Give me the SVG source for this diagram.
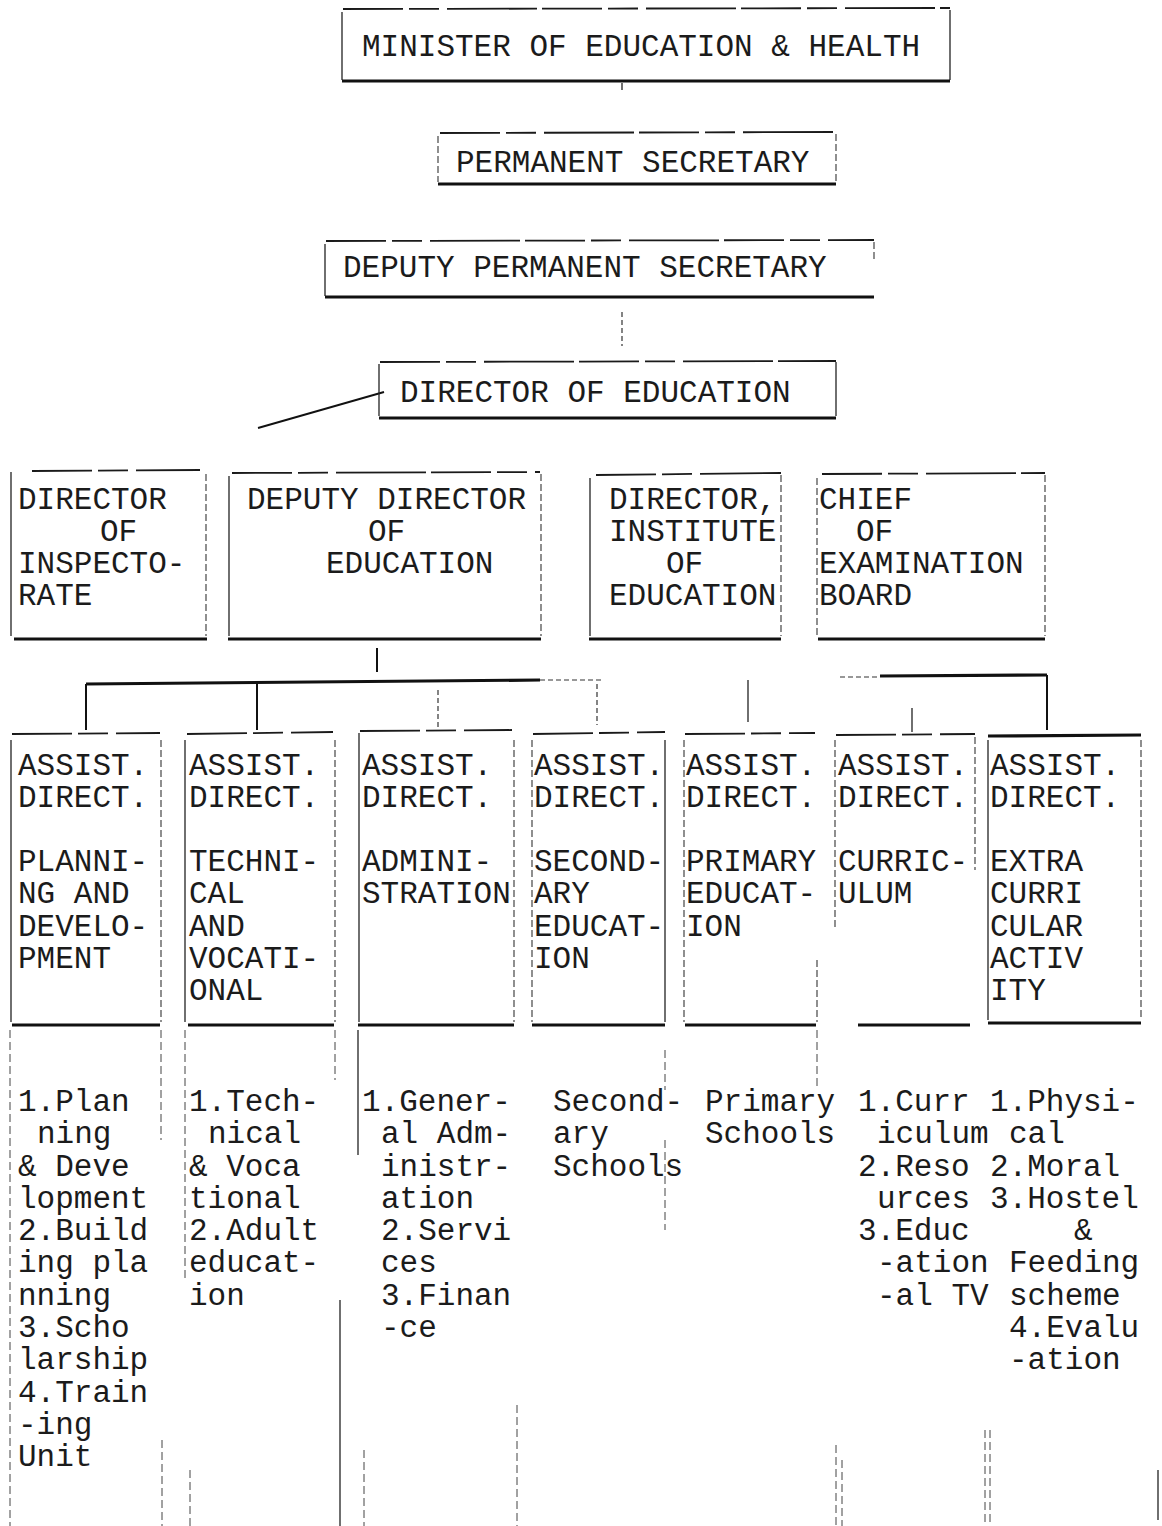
<svg xmlns="http://www.w3.org/2000/svg" width="1162" height="1526" viewBox="0 0 1162 1526">
<style>
text { font-family: "Liberation Mono", "DejaVu Sans Mono", monospace; font-size: 31px; fill: #1b1b1b; }
.t { stroke:#1a1a1a; stroke-width:1.8; stroke-dasharray: 60 6 30 8 90 5; fill:none }
.b { stroke:#111; stroke-width:3.2; fill:none }
.s { stroke:#222; stroke-width:1.3; fill:none }
.ds { stroke:#333; stroke-width:1.1; stroke-dasharray: 7 3; fill:none }
.c { stroke:#111; stroke-width:2; fill:none }
.cd { stroke:#333; stroke-width:1.2; stroke-dasharray: 5 3; fill:none }
.a { stroke:#444; stroke-width:1; stroke-dasharray: 8 4; fill:none }
</style>
<rect width="1162" height="1526" fill="#fff"/>

<g id="connectors">
  <line class="s" x1="622" y1="83" x2="622" y2="90"/>
  <line class="cd" x1="622" y1="312" x2="622" y2="346"/>
  <line class="c" x1="258" y1="428" x2="384" y2="392"/>
  <line class="c" x1="377" y1="648" x2="377" y2="672"/>
  <line class="b" x1="86" y1="684" x2="540" y2="680"/>
  <line class="cd" x1="540" y1="680" x2="602" y2="680"/>
  <line class="c" x1="86" y1="684" x2="86" y2="730"/>
  <line class="c" x1="257" y1="683" x2="257" y2="730"/>
  <line class="cd" x1="438" y1="690" x2="438" y2="728"/>
  <line class="cd" x1="597" y1="684" x2="597" y2="725"/>
  <line class="s" x1="748" y1="680" x2="748" y2="722"/>
  <line class="cd" x1="840" y1="677" x2="880" y2="677"/>
  <line class="b" x1="880" y1="676" x2="1047" y2="675"/>
  <line class="c" x1="1047" y1="675" x2="1047" y2="730"/>
  <line class="s" x1="912" y1="708" x2="912" y2="732"/>
  <line class="a" x1="10" y1="1030" x2="10" y2="1526"/>
  <line class="a" x1="161" y1="1030" x2="161" y2="1140"/>
  <line class="a" x1="162" y1="1440" x2="162" y2="1526"/>
  <line class="a" x1="185" y1="1030" x2="185" y2="1280"/>
  <line class="a" x1="190" y1="1470" x2="190" y2="1526"/>
  <line class="a" x1="335" y1="1030" x2="335" y2="1080"/>
  <line class="s" x1="340" y1="1300" x2="340" y2="1526"/>
  <line class="s" x1="358" y1="1030" x2="358" y2="1155"/>
  <line class="a" x1="364" y1="1450" x2="364" y2="1526"/>
  <line class="a" x1="517" y1="1405" x2="517" y2="1526"/>
  <line class="a" x1="665" y1="1050" x2="665" y2="1090"/>
  <line class="a" x1="665" y1="1140" x2="665" y2="1230"/>
  <line class="a" x1="817" y1="1030" x2="817" y2="1090"/>
  <line class="a" x1="836" y1="1445" x2="836" y2="1526"/>
  <line class="a" x1="842" y1="1460" x2="842" y2="1526"/>
  <line class="a" x1="985" y1="1430" x2="985" y2="1526"/>
  <line class="a" x1="990" y1="1430" x2="990" y2="1526"/>
  <line class="s" x1="1158" y1="1470" x2="1158" y2="1520"/>
</g>

<g id="minister">
  <line class="t" x1="343" y1="9" x2="950" y2="8"/>
  <line class="s" x1="342" y1="12" x2="342" y2="80"/>
  <line class="s" x1="950" y1="10" x2="950" y2="80"/>
  <line class="b" x1="342" y1="81" x2="950" y2="81"/>
  <text x="362" y="56">MINISTER OF EDUCATION &amp; HEALTH</text>
</g>

<g id="permanent-secretary">
  <line class="t" x1="440" y1="133" x2="836" y2="132"/>
  <line class="ds" x1="438" y1="136" x2="438" y2="182"/>
  <line class="ds" x1="836" y1="134" x2="836" y2="182"/>
  <line class="b" x1="438" y1="184" x2="836" y2="184"/>
  <text x="456" y="172">PERMANENT SECRETARY</text>
</g>

<g id="deputy-permanent-secretary">
  <line class="t" x1="326" y1="241" x2="874" y2="240"/>
  <line class="s" x1="325" y1="244" x2="325" y2="296"/>
  <line class="ds" x1="874" y1="242" x2="874" y2="262"/>
  <line class="b" x1="325" y1="297" x2="874" y2="297"/>
  <text x="343" y="277">DEPUTY PERMANENT SECRETARY</text>
</g>

<g id="director-of-education">
  <line class="t" x1="380" y1="362" x2="836" y2="361"/>
  <line class="s" x1="379" y1="364" x2="379" y2="416"/>
  <line class="s" x1="836" y1="362" x2="836" y2="416"/>
  <line class="b" x1="379" y1="418" x2="836" y2="418"/>
  <text x="400" y="402">DIRECTOR OF EDUCATION</text>
</g>

<g id="director-inspectorate">
  <line class="t" x1="32" y1="471" x2="200" y2="470"/>
  <line class="s" x1="11" y1="472" x2="11" y2="636"/>
  <line class="ds" x1="206" y1="474" x2="206" y2="636"/>
  <line class="b" x1="14" y1="639" x2="207" y2="639"/>
  <text x="18" y="509">DIRECTOR</text>
  <text x="100" y="541">OF</text>
  <text x="18" y="573">INSPECTO-</text>
  <text x="18" y="605">RATE</text>
</g>

<g id="deputy-director">
  <line class="t" x1="232" y1="473" x2="540" y2="472"/>
  <line class="s" x1="229" y1="476" x2="229" y2="636"/>
  <line class="ds" x1="541" y1="474" x2="541" y2="636"/>
  <line class="b" x1="228" y1="639" x2="541" y2="639"/>
  <text x="247" y="509">DEPUTY DIRECTOR</text>
  <text x="368" y="541">OF</text>
  <text x="326" y="573">EDUCATION</text>
</g>

<g id="director-institute">
  <line class="t" x1="596" y1="475" x2="781" y2="473"/>
  <line class="s" x1="590" y1="478" x2="590" y2="636"/>
  <line class="ds" x1="781" y1="475" x2="781" y2="636"/>
  <line class="b" x1="589" y1="639" x2="781" y2="639"/>
  <text x="609" y="509">DIRECTOR,</text>
  <text x="609" y="541">INSTITUTE</text>
  <text x="666" y="573">OF</text>
  <text x="609" y="605">EDUCATION</text>
</g>

<g id="chief-examination">
  <line class="t" x1="822" y1="474" x2="1045" y2="473"/>
  <line class="ds" x1="817" y1="478" x2="817" y2="636"/>
  <line class="ds" x1="1045" y1="475" x2="1045" y2="636"/>
  <line class="b" x1="818" y1="639" x2="1045" y2="639"/>
  <text x="819" y="509">CHIEF</text>
  <text x="856" y="541">OF</text>
  <text x="819" y="573">EXAMINATION</text>
  <text x="819" y="605">BOARD</text>
</g>

<g id="ad-planning">
  <line class="t" x1="12" y1="734" x2="160" y2="733"/>
  <line class="s" x1="11" y1="740" x2="11" y2="1022"/>
  <line class="ds" x1="161" y1="740" x2="161" y2="1022"/>
  <line class="b" x1="12" y1="1025" x2="160" y2="1025"/>
  <text x="18" y="775">ASSIST.</text>
  <text x="18" y="807">DIRECT.</text>
  <text x="18" y="871">PLANNI-</text>
  <text x="18" y="903">NG AND</text>
  <text x="18" y="936">DEVELO-</text>
  <text x="18" y="968">PMENT</text>
  <text x="18" y="1111">1.Plan</text>
  <text x="37" y="1143">ning</text>
  <text x="18" y="1176">&amp; Deve</text>
  <text x="18" y="1208">lopment</text>
  <text x="18" y="1240">2.Build</text>
  <text x="18" y="1272">ing pla</text>
  <text x="18" y="1305">nning</text>
  <text x="18" y="1337">3.Scho</text>
  <text x="18" y="1369">larship</text>
  <text x="18" y="1402">4.Train</text>
  <text x="18" y="1434">-ing</text>
  <text x="18" y="1466">Unit</text>
</g>

<g id="ad-technical">
  <line class="t" x1="187" y1="734" x2="333" y2="732"/>
  <line class="s" x1="185" y1="740" x2="185" y2="1022"/>
  <line class="ds" x1="335" y1="740" x2="335" y2="1022"/>
  <line class="b" x1="188" y1="1025" x2="334" y2="1025"/>
  <text x="189" y="775">ASSIST.</text>
  <text x="189" y="807">DIRECT.</text>
  <text x="189" y="871">TECHNI-</text>
  <text x="189" y="903">CAL</text>
  <text x="189" y="936">AND</text>
  <text x="189" y="968">VOCATI-</text>
  <text x="189" y="1000">ONAL</text>
  <text x="189" y="1111">1.Tech-</text>
  <text x="208" y="1143">nical</text>
  <text x="189" y="1176">&amp; Voca</text>
  <text x="189" y="1208">tional</text>
  <text x="189" y="1240">2.Adult</text>
  <text x="189" y="1272">educat-</text>
  <text x="189" y="1305">ion</text>
</g>

<g id="ad-administration">
  <line class="t" x1="360" y1="731" x2="512" y2="730"/>
  <line class="s" x1="359" y1="733" x2="359" y2="1022"/>
  <line class="ds" x1="514" y1="740" x2="514" y2="1022"/>
  <line class="b" x1="358" y1="1025" x2="514" y2="1025"/>
  <text x="362" y="775">ASSIST.</text>
  <text x="362" y="807">DIRECT.</text>
  <text x="362" y="871">ADMINI-</text>
  <text x="362" y="903">STRATION</text>
  <text x="362" y="1111">1.Gener-</text>
  <text x="381" y="1143">al Adm-</text>
  <text x="381" y="1176">inistr-</text>
  <text x="381" y="1208">ation</text>
  <text x="381" y="1240">2.Servi</text>
  <text x="381" y="1272">ces</text>
  <text x="381" y="1305">3.Finan</text>
  <text x="381" y="1337">-ce</text>
</g>

<g id="ad-secondary">
  <line class="t" x1="533" y1="734" x2="665" y2="732"/>
  <line class="ds" x1="532" y1="740" x2="532" y2="1022"/>
  <line class="s" x1="665" y1="740" x2="665" y2="1022"/>
  <line class="b" x1="532" y1="1025" x2="665" y2="1025"/>
  <text x="534" y="775">ASSIST.</text>
  <text x="534" y="807">DIRECT.</text>
  <text x="534" y="871">SECOND-</text>
  <text x="534" y="903">ARY</text>
  <text x="534" y="936">EDUCAT-</text>
  <text x="534" y="968">ION</text>
  <text x="553" y="1111">Second-</text>
  <text x="553" y="1143">ary</text>
  <text x="553" y="1176">Schools</text>
</g>

<g id="ad-primary">
  <line class="t" x1="685" y1="734" x2="815" y2="733"/>
  <line class="ds" x1="684" y1="740" x2="684" y2="1022"/>
  <line class="ds" x1="817" y1="960" x2="817" y2="1022"/>
  <line class="b" x1="685" y1="1025" x2="816" y2="1025"/>
  <text x="686" y="775">ASSIST.</text>
  <text x="686" y="807">DIRECT.</text>
  <text x="686" y="871">PRIMARY</text>
  <text x="686" y="903">EDUCAT-</text>
  <text x="686" y="936">ION</text>
  <text x="705" y="1111">Primary</text>
  <text x="705" y="1143">Schools</text>
</g>

<g id="ad-curriculum">
  <line class="t" x1="836" y1="735" x2="975" y2="734"/>
  <line class="ds" x1="835" y1="740" x2="835" y2="930"/>
  <line class="ds" x1="975" y1="737" x2="975" y2="870"/>
  <line class="b" x1="858" y1="1025" x2="970" y2="1025"/>
  <text x="838" y="775">ASSIST.</text>
  <text x="838" y="807">DIRECT.</text>
  <text x="838" y="871">CURRIC-</text>
  <text x="838" y="903">ULUM</text>
  <text x="858" y="1111">1.Curr</text>
  <text x="877" y="1143">iculum</text>
  <text x="858" y="1176">2.Reso</text>
  <text x="877" y="1208">urces</text>
  <text x="858" y="1240">3.Educ</text>
  <text x="877" y="1272">-ation</text>
  <text x="877" y="1305">-al TV</text>
</g>

<g id="ad-extra-curricular">
  <line class="b" x1="988" y1="736" x2="1141" y2="735"/>
  <line class="s" x1="988" y1="740" x2="988" y2="1020"/>
  <line class="ds" x1="1141" y1="740" x2="1141" y2="1020"/>
  <line class="b" x1="988" y1="1023" x2="1141" y2="1023"/>
  <text x="990" y="775">ASSIST.</text>
  <text x="990" y="807">DIRECT.</text>
  <text x="990" y="871">EXTRA</text>
  <text x="990" y="903">CURRI</text>
  <text x="990" y="936">CULAR</text>
  <text x="990" y="968">ACTIV</text>
  <text x="990" y="1000">ITY</text>
  <text x="990" y="1111">1.Physi-</text>
  <text x="1009" y="1143">cal</text>
  <text x="990" y="1176">2.Moral</text>
  <text x="990" y="1208">3.Hostel</text>
  <text x="1074" y="1240">&amp;</text>
  <text x="1009" y="1272">Feeding</text>
  <text x="1009" y="1305">scheme</text>
  <text x="1009" y="1337">4.Evalu</text>
  <text x="1009" y="1369">-ation</text>
</g>
</svg>
